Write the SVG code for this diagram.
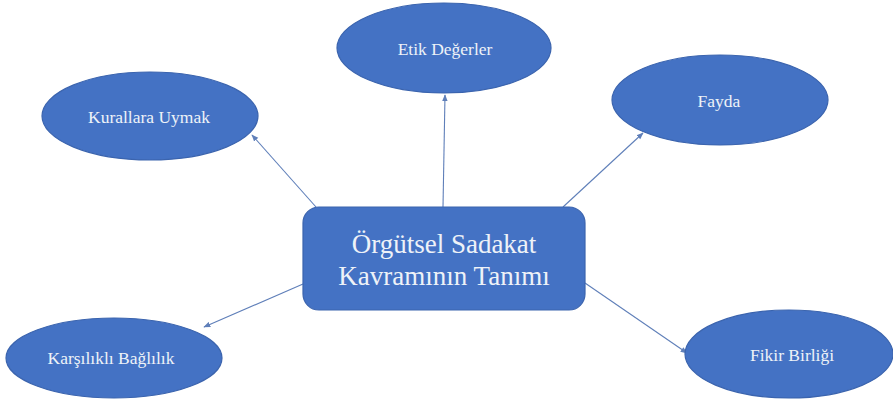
<svg xmlns="http://www.w3.org/2000/svg" width="893" height="401" viewBox="0 0 893 401">
  <style>
    .shape { fill: #4472C4; stroke: #3B64AE; stroke-width: 1.2; }
    .label { fill: #EEF2F8; text-anchor: middle; }
    .small { font-size: 17.5px; }
    .big { font-size: 27px; }
    .link { stroke: #5F7FB9; stroke-width: 1.1; fill: none; marker-end: url(#arrow); }
  </style>
  <defs>
    <marker id="arrow" viewBox="0 0 10 10" refX="9" refY="5" markerWidth="7" markerHeight="7" orient="auto" markerUnits="userSpaceOnUse">
      <path d="M0,1 L10,5 L0,9 z" fill="#5F7FB9"/>
    </marker>
  </defs>
  <rect width="893" height="401" fill="#FFFFFF"/>

  <g id="connectors">
    <line class="link" x1="443" y1="207" x2="445" y2="95"/>
    <line class="link" x1="316" y1="207" x2="252" y2="135"/>
    <line class="link" x1="563" y1="207" x2="643" y2="133"/>
    <line class="link" x1="303" y1="284" x2="204" y2="327"/>
    <line class="link" x1="585" y1="283" x2="687" y2="353"/>
  </g>

  <g font-family="'Liberation Serif', 'Times New Roman', serif">
    <g id="center">
      <rect class="shape" x="303" y="207" width="282" height="103" rx="16" ry="16"/>
      <text class="label big" x="444" y="253">Örgütsel Sadakat</text>
      <text class="label big" x="444" y="285">Kavramının Tanımı</text>
    </g>

    <g id="etik-degerler">
      <ellipse class="shape" cx="444" cy="48" rx="107" ry="45"/>
      <text class="label small" x="445" y="55">Etik Değerler</text>
    </g>

    <g id="kurallara-uymak">
      <ellipse class="shape" cx="150" cy="116" rx="108" ry="44"/>
      <text class="label small" x="149" y="123">Kurallara Uymak</text>
    </g>

    <g id="fayda">
      <ellipse class="shape" cx="720" cy="100" rx="108" ry="45"/>
      <text class="label small" x="719" y="107">Fayda</text>
    </g>

    <g id="karsilikli-baglilik">
      <ellipse class="shape" cx="114" cy="358" rx="108" ry="40"/>
      <text class="label small" x="111" y="364">Karşılıklı Bağlılık</text>
    </g>

    <g id="fikir-birligi">
      <ellipse class="shape" cx="789" cy="354" rx="104" ry="44"/>
      <text class="label small" x="792" y="361">Fikir Birliği</text>
    </g>
  </g>
</svg>
